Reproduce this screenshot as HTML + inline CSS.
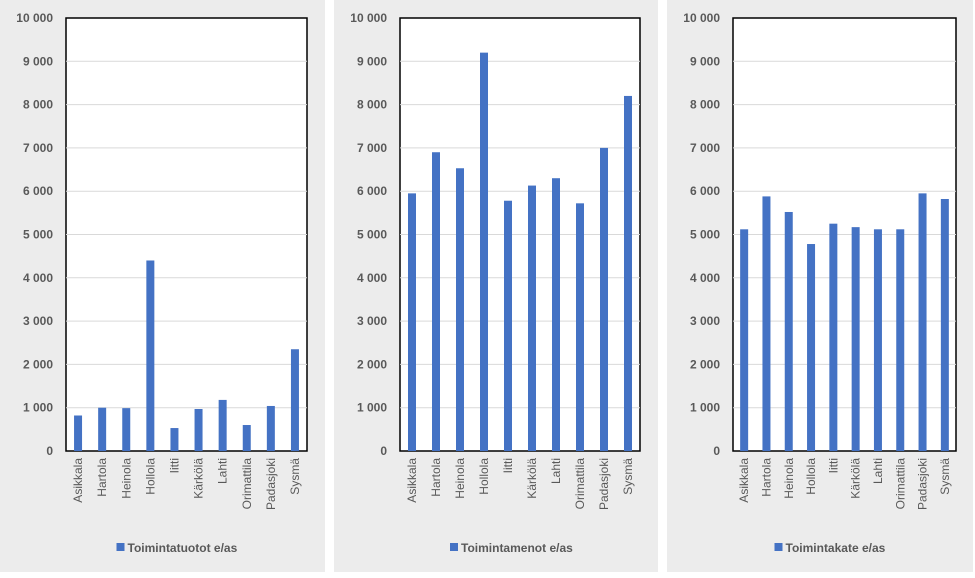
<!DOCTYPE html>
<html><head><meta charset="utf-8"><style>
body{margin:0;background:#fff;width:975px;height:573px;overflow:hidden;font-family:"Liberation Sans",sans-serif}
</style></head><body>
<svg id="s" width="975" height="573" xmlns="http://www.w3.org/2000/svg"></svg>
<script>
const categories=["Asikkala","Hartola","Heinola","Hollola","Iitti","Kärkölä","Lahti","Orimattila","Padasjoki","Sysmä"];
const tuotot=[820,1000,990,4400,530,970,1180,600,1040,2350];
const menot=[5950,6900,6530,9200,5780,6130,6300,5720,7000,8200];
const kate=[5120,5880,5520,4780,5250,5170,5120,5120,5950,5820];
const ticks=[0,1000,2000,3000,4000,5000,6000,7000,8000,9000,10000];
const tickLabels=["0","1 000","2 000","3 000","4 000","5 000","6 000","7 000","8 000","9 000","10 000"];
const NS="http://www.w3.org/2000/svg",svgRoot=document.getElementById('s');
function el(t,a,p){const e=document.createElementNS(NS,t);for(const k in a)e.setAttribute(k,a[k]);(p||svgRoot).appendChild(e);return e;}
const panels=[
 {px:0,pw:325,l:66,r:307,data:tuotot,name:"Toimintatuotot e/as",key:"tuotot"},
 {px:334,pw:324,l:400,r:640,data:menot,name:"Toimintamenot e/as",key:"menot"},
 {px:667,pw:306,l:733,r:956,data:kate,name:"Toimintakate e/as",key:"kate"}];
const plotTop=18,plotBot=451;
panels.forEach(p=>{
 const g=el('g',{});
 
 
 const bg=el('rect',{x:p.px,y:0,width:p.pw,height:572,fill:'#ececec'},g);
 
 
 const pa=el('rect',{x:p.l,y:plotTop,width:p.r-p.l,height:plotBot-plotTop,fill:'#fff',stroke:'#000','stroke-width':1.5},g);
 
 
 const yScale=v=>plotBot-(v/10000)*(plotBot-plotTop);
 ticks.forEach((t,i)=>{
  if(t>0&&t<10000){const gl=el('line',{x1:p.l,x2:p.r,y1:yScale(t),y2:yScale(t),stroke:'#d9d9d9'},g);
  
  }
  const tx=el('text',{x:p.l-13,y:yScale(t)+4,'text-anchor':'end','font-size':12,'font-weight':'bold',fill:'#595959'},g);
  tx.textContent=tickLabels[i];
  
  
 });
 const bw=(p.r-p.l)/categories.length;
 categories.forEach((c,i)=>{
  const cx=p.l+bw*(i+0.5);
  const b=el('rect',{x:cx-4,y:yScale(p.data[i]),width:8,height:plotBot-yScale(p.data[i]),fill:'#4472c4'},g);
  
  
  const t=el('text',{x:0,y:0,transform:`translate(${cx+4},458) rotate(-90)`,'text-anchor':'end','font-size':12,fill:'#595959'},g);
  t.textContent=c;
  
  
 });
 const lx=(p.l+p.r)/2-70;
 const lg=el('g',{},g);
 
 
 el('rect',{x:lx,y:543,width:8,height:8,fill:'#4472c4'},lg);
 const lt=el('text',{x:lx+11,y:552,'font-size':12,'font-weight':'bold',fill:'#595959'},lg);
 lt.textContent=p.name;
});
</script>
</body></html>
